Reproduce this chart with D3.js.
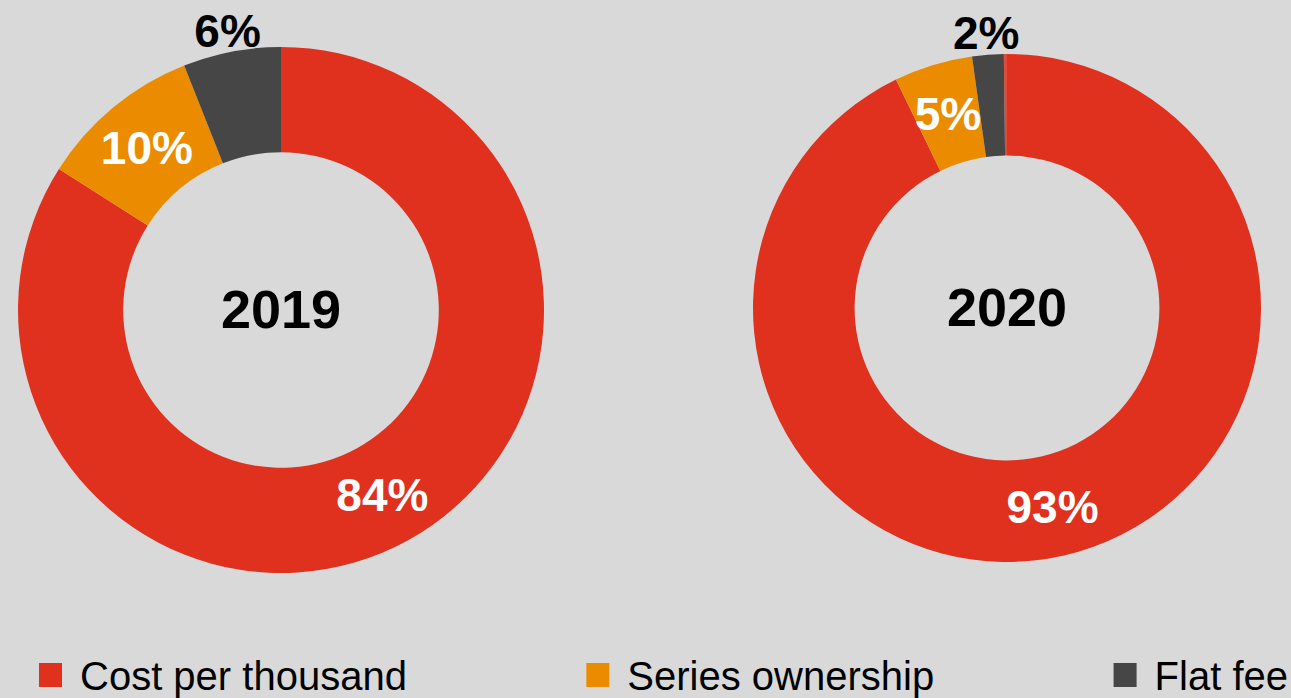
<!DOCTYPE html>
<html lang="en">
<head>
    <meta charset="utf-8">
    <title>Pricing model share, 2019 vs 2020</title>
    <script src="https://cdn.jsdelivr.net/npm/d3@7"></script>
    <style>
        html, body {margin: 0; padding: 0; background: #d9d9d9;}
        svg {display: block;}
        text {font-family: "Liberation Sans", Arial, sans-serif;}
    </style>
</head>
<body>
<script>
    // data (percent of deals)
    const categories = ["Cost per thousand", "Series ownership", "Flat fee"];
    const years = ["2019", "2020"];
    const share2019 = [84.0, 10.0, 6.0];
    const share2020 = [92.8, 5.0, 2.0];
    const colors = ["#e0301e", "#eb8c00", "#464646"];

    const dim = {width: 1291, height: 698};

    // the two doughnuts are not quite the same size in the original
    const charts = [
        {year: years[0], values: share2019, cx: 281, cy: 310, r: 263},
        {year: years[1], values: share2020, cx: 1007, cy: 308, r: 254},
    ];

    const color = d3.scaleOrdinal(categories, colors);
    const fmt = v => d3.format(".0f")(v) + "%";
    // share of a full circle, 0..100 percent
    const angle = d3.scaleLinear().domain([0, 100]).range([0, 2 * Math.PI]);

    const svg = d3.select("body").append("svg")
                  .attr("width", dim.width)
                  .attr("height", dim.height);

    charts.forEach(chart => {
        const inner = chart.r * 0.6;
        const total = d3.sum(chart.values);

        const pie = d3.pie().sort(null).value(d => d.value)
                      .startAngle(0)
                      .endAngle(angle(total));
        const arc = d3.arc().innerRadius(inner).outerRadius(chart.r);
        const mid = d3.arc().innerRadius(inner).outerRadius(chart.r);

        const data = chart.values.map((v, i) => ({category: categories[i], value: v}));
        const arcs = pie(data);

        const g = svg.append("g")
                     .attr("transform", `translate(${chart.cx},${chart.cy})`);

        // rounding remainder (the thin sliver left of 12 o'clock)
        if (total < 100) {
            g.append("path")
             .attr("d", arc({startAngle: angle(total), endAngle: angle(100)}))
             .attr("fill", colors[0])
             .attr("opacity", 0.85);
        }

        g.selectAll(".slice")
         .data(arcs)
         .join("path")
            .attr("class", "slice")
            .attr("d", arc)
            .attr("fill", d => color(d.data.category));

        // last category (dark slice) is labelled outside the ring
        const outside = d => d.index === categories.length - 1;

        g.selectAll(".value")
         .data(arcs)
         .join("text")
            .attr("class", "value")
            .attr("transform", d => {
                if (outside(d)) {
                    const a = (d.startAngle + d.endAngle) / 2;
                    const rr = chart.r + 22;
                    return `translate(${rr * Math.sin(a)},${-rr * Math.cos(a)})`;
                }
                return `translate(${mid.centroid(d)})`;
            })
            .attr("dy", "0.36em")
            .attr("text-anchor", "middle")
            .style("font-size", "46px")
            .style("font-weight", "bold")
            .attr("fill", d => outside(d) ? "#000" : "#fff")
            .text(d => fmt(d.value));

        g.append("text")
         .attr("class", "year")
         .attr("dy", "0.34em")
         .attr("text-anchor", "middle")
         .style("font-size", "54px")
         .style("font-weight", "bold")
         .attr("fill", "#000")
         .text(chart.year);
    });

    // legend, spread evenly across the bottom
    const legend = {left: 39, right: 1288, top: 663, box: 23, boxH: 24, gap: 18, baseline: 690};

    const items = svg.append("g").attr("class", "legend")
                     .selectAll(".item")
                     .data(categories)
                     .join("g")
                        .attr("class", "item");

    items.append("rect")
         .attr("y", legend.top)
         .attr("width", legend.box)
         .attr("height", legend.boxH)
         .attr("fill", d => color(d));

    items.append("text")
         .attr("x", legend.box + legend.gap)
         .attr("y", legend.baseline)
         .style("font-size", "40px")
         .attr("fill", "#000")
         .text(d => d);

    const widths = [];
    items.each(function () {
        widths.push(legend.box + legend.gap + d3.select(this).select("text").node().getComputedTextLength());
    });
    const space = (legend.right - legend.left - d3.sum(widths)) / (categories.length - 1);
    let x = legend.left;
    items.attr("transform", (d, i) => {
        const t = `translate(${x},0)`;
        x += widths[i] + space;
        return t;
    });
</script>
</body>
</html>
